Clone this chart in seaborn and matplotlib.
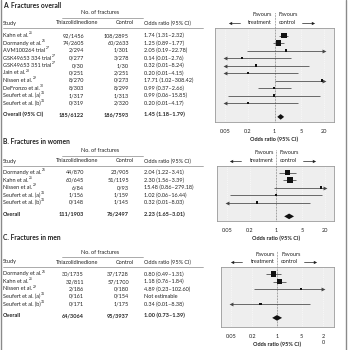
import matplotlib
matplotlib.use("Agg")
import matplotlib.pyplot as plt
import seaborn as sns
import numpy as np
import pandas as pd

sns.set_theme(style="white")
plt.rcParams["font.family"] = ["Lato", "DejaVu Sans"]

# ---------------- data ----------------
a_title = "A. Fractures overall"
a_studies = ["Kahn et al.", "Dormandy et al.", "AVM100264 trial", "GSK49653 334 trial",
             "GSK49653 351 trial", "Jain et al.", "Nissen et al.", "DeFronzo et al.",
             "Seufert et al. (a)", "Seufert et al. (b)"]
a_refs = ["25", "26", "27", "27", "27", "28", "29", "30", "31", "31"]
a_tzd = ["92/1456", "74/2605", "2/294", "0/277", "0/30", "0/251", "8/270", "8/303", "1/317", "0/319"]
a_ctrl = ["108/2895", "60/2633", "1/301", "3/278", "1/30", "2/251", "0/273", "8/299", "1/313", "2/320"]
a_or = [1.74, 1.25, 2.05, 0.14, 0.32, 0.20, 17.71, 0.99, 0.99, 0.20]
a_lo = [1.31, 0.89, 0.19, 0.01, 0.01, 0.01, 1.02, 0.37, 0.06, 0.01]
a_hi = [2.32, 1.77, 22.78, 2.76, 8.24, 4.15, 308.42, 2.66, 15.85, 4.17]
a_wt = [48, 36, 1.5, 1.2, 0.8, 0.8, 0.8, 1.5, 0.8, 0.8]
a_overall = ["Overall (95% CI)", "185/6122", "186/7593", 1.45, 1.18, 1.79]

b_title = "B. Fractures in women"
b_studies = ["Dormandy et al.", "Kahn et al.", "Nissen et al.", "Seufert et al. (a)", "Seufert et al. (b)"]
b_refs = ["26", "25", "29", "31", "31"]
b_tzd = ["44/870", "60/645", "6/84", "1/156", "0/148"]
b_ctrl = ["23/905", "51/1195", "0/93", "1/159", "1/145"]
b_or = [2.04, 2.30, 15.48, 1.02, 0.32]
b_lo = [1.22, 1.56, 0.86, 0.06, 0.01]
b_hi = [3.41, 3.39, 279.18, 16.44, 8.03]
b_wt = [36, 55, 0.8, 0.8, 0.8]
b_overall = ["Overall", "111/1903", "76/2497", 2.23, 1.65, 3.01]

c_title = "C. Fractures in men"
c_studies = ["Dormandy et al.", "Kahn et al.", "Nissen et al.", "Seufert et al. (a)", "Seufert et al. (b)"]
c_refs = ["26", "25", "29", "31", "31"]
c_tzd = ["30/1735", "32/811", "2/186", "0/161", "0/171"]
c_ctrl = ["37/1728", "57/1700", "0/180", "0/154", "1/175"]
c_or = [0.80, 1.18, 4.89, np.nan, 0.34]
c_lo = [0.49, 0.76, 0.23, np.nan, 0.01]
c_hi = [1.31, 1.84, 102.60, np.nan, 8.38]
c_wt = [48, 48, 0.8, 0, 0.8]
c_overall = ["Overall", "64/3064", "95/3937", 1.00, 0.73, 1.39]

tick_vals = [0.05, 0.2, 1, 5, 20]
tick_labels_ab = ["0.05", "0.2", "1", "5", "20"]
tick_labels_c = ["0.05", "0.2", "1", "5", "2\n0"]
x_label = "Odds ratio (95% CI)"
clip_lo, clip_hi = 0.05, 20

# ---------------- layout (pixels) ----------------
W = H = 350
FS = 4.0
TXT = "#222222"
LINE = "#444444"

fig = plt.figure(figsize=(3.5, 3.5), dpi=100)
ax0 = fig.add_axes([0, 0, 1, 1])
ax0.set_xlim(0, W)
ax0.set_ylim(H, 0)
ax0.axis("off")

# side frame lines
ax0.plot([1, 1], [0, H], color="#8a8a8a", lw=1.0)
ax0.plot([346, 346], [0, H], color="#8a8a8a", lw=1.0)


def fmt_or(o, l, h):
    if np.isnan(o):
        return "Not estimable"
    return f"{o:.2f} ({l:.2f}\u2013{h:.2f})"


def panel(title, studies, refs, tzd, ctrl, ors, los, his, wts, overall,
          ytitle, box, tick_px, ticklabels, row0, overall_gap=1.85):
    bx0, bx1, by0, by1 = box
    step = 7.5
    ys = [row0 + step * i for i in range(len(studies))]
    yov = ys[-1] + step * overall_gap

    # text columns
    ax0.text(3, ytitle, title, fontsize=4.9, fontweight="bold", color=TXT, va="center", ha="left")
    ax0.text(100, by0 - 15, "No. of fractures", fontsize=FS, color=TXT, va="center", ha="center")
    ax0.plot([62, 143], [by0 - 10, by0 - 10], color="#888888", lw=0.5)
    yh = by0 - 5
    ax0.text(3, yh, "Study", fontsize=FS, color=TXT, va="center")
    ax0.text(77, yh, "Thiazolidinedione", fontsize=FS, color=TXT, va="center", ha="center")
    ax0.text(125, yh, "Control", fontsize=FS, color=TXT, va="center", ha="center")
    ax0.text(144, yh, "Odds ratio (95% CI)", fontsize=FS, color=TXT, va="center", ha="left")
    ax0.plot([3, 203], [by0 - 0.5, by0 - 0.5], color="#888888", lw=0.5)
    for y, s, r, t, c, o, l, h in zip(ys, studies, refs, tzd, ctrl, ors, los, his):
        st = ax0.text(3, y, s, fontsize=FS, color=TXT, va="center")
        ax0.annotate(r, xy=(1.0, 0.55), xycoords=st, fontsize=2.4, color=TXT,
                     va="bottom", ha="left", xytext=(0.3, 0), textcoords="offset points")
        ax0.text(84, y, t, fontsize=FS, color=TXT, va="center", ha="right")
        ax0.text(129, y, c, fontsize=FS, color=TXT, va="center", ha="right")
        ax0.text(144, y, fmt_or(o, l, h), fontsize=FS, color=TXT, va="center", ha="left")
    lab, t, c, o, l, h = overall
    ax0.text(3, yov - 2, lab, fontsize=FS, color=TXT, va="center", fontweight="bold")
    ax0.text(84, yov - 2, t, fontsize=FS, color=TXT, va="center", ha="right", fontweight="bold")
    ax0.text(129, yov - 2, c, fontsize=FS, color=TXT, va="center", ha="right", fontweight="bold")
    ax0.text(144, yov - 2, fmt_or(o, l, h), fontsize=FS, color=TXT, va="center", ha="left",
             fontweight="bold")

    # forest axis
    ax = fig.add_axes([bx0 / W, 1 - by1 / H, (bx1 - bx0) / W, (by1 - by0) / H])
    tp0, tp1 = tick_px
    k = (tp1 - tp0) / np.log10(clip_hi / clip_lo)
    xlo = 10 ** (np.log10(clip_lo) - (tp0 - bx0) / k)
    xhi = 10 ** (np.log10(clip_hi) + (bx1 - tp1) / k)
    ax.set_xscale("log")
    ax.set_xlim(xlo, xhi)
    ax.set_ylim(by1, by0)
    ax.set_facecolor("#eeeeee")
    for sp in ax.spines.values():
        sp.set_color("#9a9a9a")
        sp.set_linewidth(0.6)
    for tv in tick_vals:
        if tv != 1:
            ax.axvline(tv, color="white", lw=0.5, ls=":")
    ax.plot([1, 1], [by1, by0 - 16], color="#555555", lw=0.5, ls=(0, (1, 1.2)), clip_on=False)

    df = pd.DataFrame({"or": ors, "lo": los, "hi": his, "y": ys, "w": wts}).dropna()
    for _, r in df.iterrows():
        l = max(r["lo"], clip_lo)
        h = min(r["hi"], clip_hi)
        ax.hlines(r["y"], l, h, color=LINE, lw=0.55)
        if r["lo"] < clip_lo:
            ax.plot(clip_lo, r["y"], marker="<", ms=2.8, color=LINE, mew=0)
        if r["hi"] > clip_hi:
            ax.plot(clip_hi, r["y"], marker=">", ms=2.8, color=LINE, mew=0)
    sns.scatterplot(data=df, x="or", y="y", size="w", sizes=(2.2, 19), size_norm=(0, 55),
                    marker="s", color="#111111", linewidth=0, legend=False, ax=ax, zorder=3)
    o, l, h = overall[3], overall[4], overall[5]
    ax.fill([l, o, h, o], [yov, yov - 2.8, yov, yov + 2.8], color="#111111", zorder=3, lw=0)

    ax.set_xticks(tick_vals)
    ax.set_xticklabels(ticklabels, va="top")
    ax.minorticks_off()
    ax.set_yticks([])
    ax.tick_params(axis="x", labelsize=FS, length=1.2, width=0.5, color="#9a9a9a", pad=3.8,
                   labelcolor=TXT)
    ax.set_xlabel("")
    ax.set_ylabel("")

    xpx1 = tp0 + k * np.log10(1 / clip_lo)
    ax0.text(xpx1, by1 + 17, x_label, fontsize=FS, fontweight="bold", color=TXT,
             ha="center", va="center")

    # favours labels
    ya, yb = by0 - 13, by0 - 5.5
    ax0.text(xpx1 - 2.5, ya, "Favours", fontsize=FS, color=TXT, ha="right", va="center")
    ax0.text(xpx1 - 2.5, yb, "treatment", fontsize=FS, color=TXT, ha="right", va="center")
    ax0.text(xpx1 + 4, ya, "Favours", fontsize=FS, color=TXT, ha="left", va="center")
    ax0.text(xpx1 + 4, yb, "control", fontsize=FS, color=TXT, ha="left", va="center")
    ax0.plot([xpx1 - 45, xpx1 - 35], [yb, yb], color=TXT, lw=0.5)
    ax0.plot(xpx1 - 45, yb, marker="<", ms=2.4, color=TXT, mew=0)
    ax0.plot([xpx1 + 27, xpx1 + 38], [yb, yb], color=TXT, lw=0.5)
    ax0.plot(xpx1 + 38, yb, marker=">", ms=2.4, color=TXT, mew=0)
    return ax


panel(a_title, a_studies, a_refs, a_tzd, a_ctrl, a_or, a_lo, a_hi, a_wt, a_overall,
      ytitle=5, box=(215, 334, 28, 122), tick_px=(225, 324), ticklabels=tick_labels_ab, row0=35.5)
panel(b_title, b_studies, b_refs, b_tzd, b_ctrl, b_or, b_lo, b_hi, b_wt, b_overall,
      ytitle=142, box=(217, 334, 166, 221), tick_px=(227, 325), ticklabels=tick_labels_ab, row0=172.5)
panel(c_title, c_studies, c_refs, c_tzd, c_ctrl, c_or, c_lo, c_hi, c_wt, c_overall,
      ytitle=238, box=(221, 334, 267, 327), tick_px=(231, 323), ticklabels=tick_labels_c, row0=274)

fig.savefig("out.png", dpi=100)
